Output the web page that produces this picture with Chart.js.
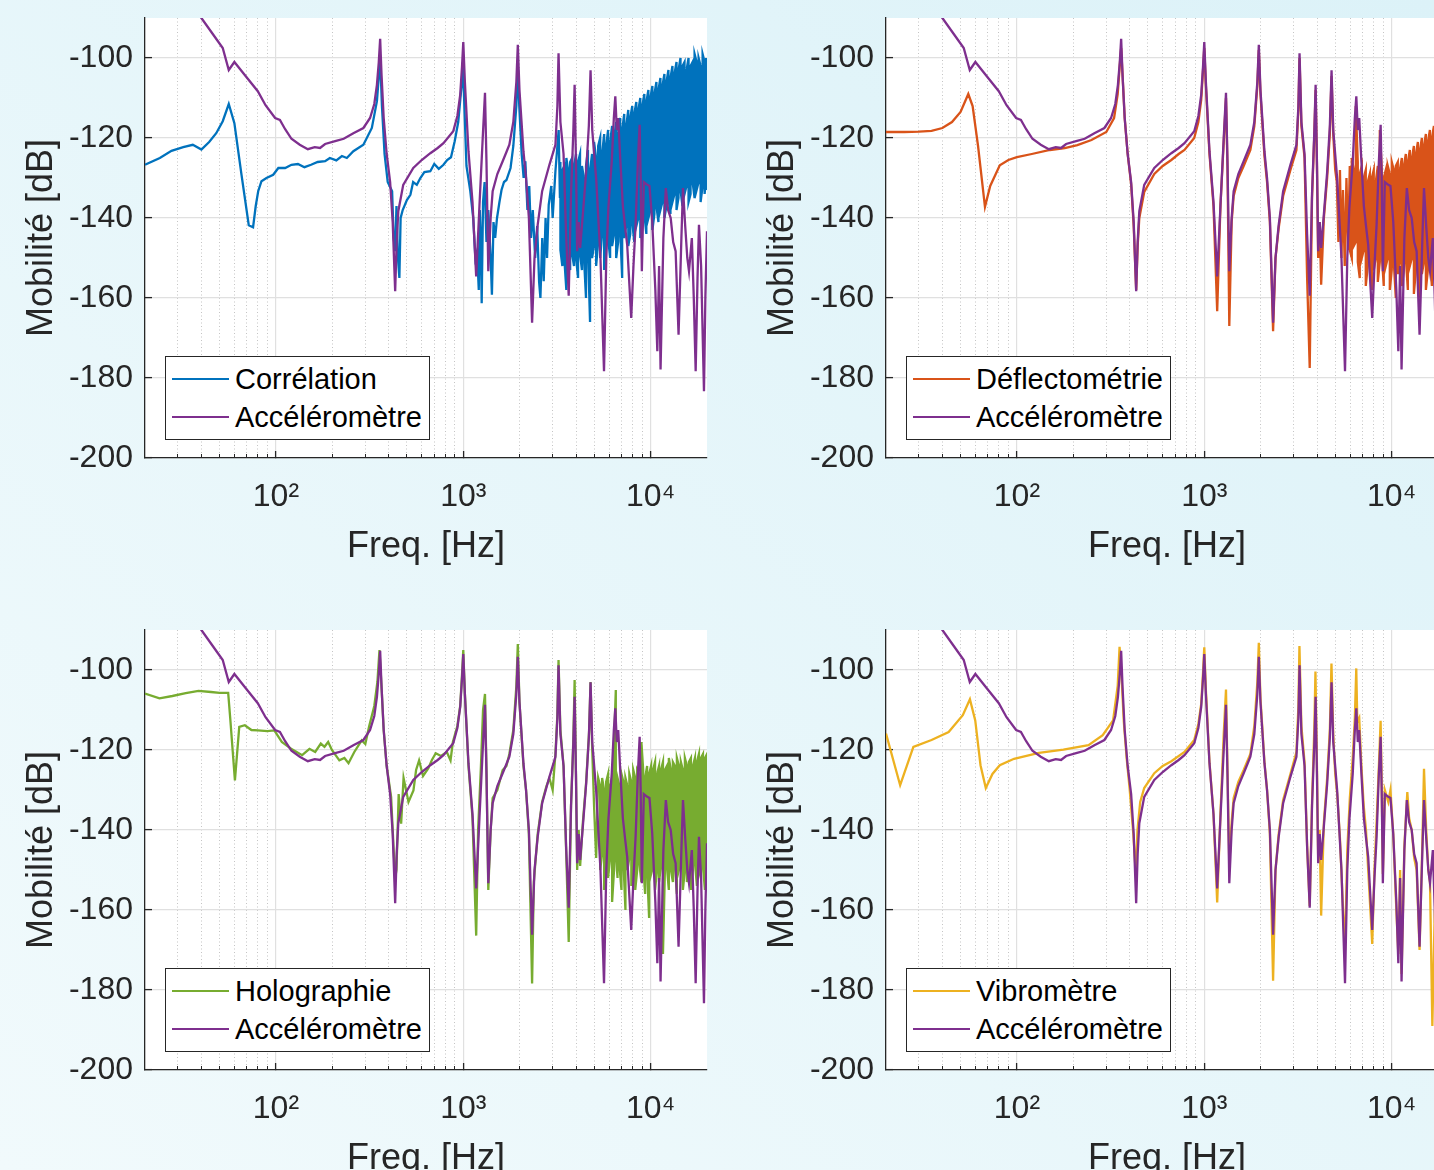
<!DOCTYPE html>
<html>
<head>
<meta charset="utf-8">
<script src="https://cdn.jsdelivr.net/npm/chart.js@4.4.1/dist/chart.umd.min.js"></script>
<style>
  body { margin: 0; }
  #figure {
    position: relative; width: 1434px; height: 1170px; overflow: hidden;
    background: linear-gradient(to top right, #f1fafc, #dcf2f8);
    font-family: "Liberation Sans", Arial, sans-serif;
  }
  .panel { position: absolute; width: 740px; height: 600px; }
  .panel canvas { position: absolute; left: 0; top: 0; }
  .legend {
    position: absolute; left: 165px; top: 356px;
    background: #fff; border: 1px solid #262626;
    padding: 3px 7px 3px 6px; font-size: 29px; line-height: 38px; color: #000;
  }
  .legend .row { display: flex; align-items: center; white-space: nowrap; }
  .legend .swatch { width: 57px; height: 2px; margin-right: 6px; }
</style>
</head>
<body>
<div id="figure">
  <div class="panel" id="p1" style="left:0;top:0"><canvas id="c1" width="740" height="600"></canvas></div>
  <div class="panel" id="p2" style="left:741px;top:0"><canvas id="c2" width="740" height="600"></canvas></div>
  <div class="panel" id="p3" style="left:0;top:612px"><canvas id="c3" width="740" height="600"></canvas></div>
  <div class="panel" id="p4" style="left:741px;top:612px"><canvas id="c4" width="740" height="600"></canvas></div>
</div>
<script>
// axis ticks
const freqMajor = [100, 1000, 10000];
const freqMajorLabels = ["10²", "10³", "10⁴"];
const freqMinor = [30, 40, 50, 60, 70, 80, 90, 200, 300, 400, 500, 600, 700, 800, 900,
  2000, 3000, 4000, 5000, 6000, 7000, 8000, 9000];
const dbTicks = [-200, -180, -160, -140, -120, -100];

// [Hz, dB]
const accelerometre = [
  [20, -76], [25, -80], [30, -84], [35, -87], [40, -90], [46, -94], [52, -97.5], [56, -103],
  [60, -101], [68, -104.2], [80, -108.3], [88, -111.8], [99, -115], [105, -115.5], [112, -117.8],
  [121, -120.2], [134, -121.7], [148, -122.8], [161, -122.3], [172, -122.5], [183, -121.5],
  [207, -120.8], [230, -120.2], [259, -118.8], [293, -117.5], [318, -115], [335, -111.5],
  [346, -106.7], [354, -101], [360, -95.2], [366, -104], [376, -115], [390, -124], [407, -131],
  [420, -141], [433, -158.3], [441, -146], [450, -138.3], [478, -131.7], [541, -127.5],
  [600, -125.5], [667, -123.8], [730, -122.5], [784, -121.3], [884, -118.3], [930, -114.5],
  [963, -109.2], [985, -102], [1000, -96], [1020, -106], [1066, -123.3], [1120, -136],
  [1172, -154.6], [1220, -137], [1270, -120], [1306, -108.7], [1330, -126], [1360, -153.3],
  [1400, -140], [1435, -133.3], [1520, -129], [1623, -125.8], [1700, -123.5], [1762, -121.7],
  [1850, -116], [1920, -106], [1955, -96.7], [1995, -108], [2095, -123.3], [2163, -130],
  [2240, -140], [2330, -166.2], [2400, -150], [2496, -141.7], [2636, -133.3], [2883, -126.7],
  [3104, -121.7], [3180, -112], [3225, -98.8], [3300, -116], [3430, -124], [3540, -144.2],
  [3655, -159.4], [3760, -134], [3870, -118], [3930, -106.7], [3995, -126], [4055, -148.3],
  [4130, -141], [4206, -147.5], [4350, -139], [4528, -128.5], [4680, -117], [4780, -103.1],
  [4880, -118], [5122, -130.2], [5400, -150], [5640, -178.3], [5800, -150], [5950, -137.5],
  [6200, -126], [6364, -115], [6480, -109.6], [6600, -118], [6716, -115], [6900, -126],
  [7109, -137], [7300, -142], [7499, -146.7], [7880, -165], [8100, -152], [8315, -141.7],
  [8550, -126], [8740, -116.7], [8850, -130], [8980, -153.3], [9200, -131], [9600, -131.7],
  [9860, -132], [10200, -140.8], [10600, -158], [10860, -173.3], [11100, -152], [11300, -177.9],
  [11700, -145], [12060, -132.5], [12400, -138], [12800, -140], [13200, -146], [13600, -148.3],
  [14100, -169.2], [14600, -145], [14890, -132.5], [15300, -142], [15700, -150], [16030, -153.3],
  [16600, -145], [17000, -160], [17400, -178.3], [17800, -155], [18120, -141.7], [18600, -152],
  [19270, -183.3], [19600, -160], [20000, -143.3]
];

const correlation = [
  [20, -126.7], [24, -125], [27.7, -123.2], [32, -122.3], [36, -121.7], [40, -122.9], [44, -121],
  [48, -118.8], [52, -115.8], [56, -111.5], [60, -116.3], [65.5, -129.2], [71.6, -141.8],
  [75.5, -142.3], [78, -137], [80.4, -133.3], [83.7, -130.8], [89, -130], [96.7, -129.2],
  [103, -127.5], [112, -127.5], [121, -126.7], [131, -126.5], [142, -127.3], [154, -126.7],
  [167, -126], [183, -125.8], [194, -125], [210, -125.6], [225, -124.5], [239, -125],
  [259, -123.3], [293, -121.7], [325, -117.5], [346, -110.8], [355, -104], [360, -100],
  [368, -112], [380, -124], [395, -131], [417, -133.3], [425, -145], [433, -148.3], [440, -137],
  [448, -150], [456, -155], [463, -140], [475, -138], [500, -135.5], [522, -134.2], [540, -131],
  [565, -131.7], [590, -130], [620, -128.5], [667, -128.3], [700, -126.5], [740, -127.7],
  [784, -126.7], [820, -125.5], [860, -124.8], [900, -120.8], [940, -116], [980, -106.7],
  [995, -101], [1010, -110], [1040, -127], [1090, -133.3], [1130, -140], [1160, -150],
  [1185, -148.3], [1210, -158], [1225, -138], [1240, -145], [1254, -161.3], [1275, -136],
  [1300, -131], [1330, -146], [1360, -138], [1400, -150], [1422, -159.2], [1450, -141],
  [1480, -145], [1514, -140], [1560, -136], [1600, -133], [1650, -131], [1700, -130.5],
  [1788, -127.5], [1850, -122], [1920, -112], [1955, -102], [1990, -112], [2050, -124],
  [2100, -130], [2145, -125.8], [2200, -138], [2250, -132], [2300, -145], [2350, -138],
  [2420, -150], [2480, -142], [2540, -156], [2581, -160], [2640, -145], [2688, -155.8],
  [2750, -140], [2800, -150], [2858, -136.7], [2950, -132], [3000, -140], [3104, -128.3],
  [3180, -122], [3230, -118], [3280, -135]
];
// noisy part: [Hz, upper dB, lower dB]
const correlationBand = [
  [3300, -126, -148], [3380, -128, -152], [3460, -127, -150], [3550, -125, -158],
  [3630, -128, -150], [3720, -126, -153], [3810, -125, -149], [3900, -127, -152],
  [4000, -124, -150], [4100, -126, -155], [4200, -124, -149], [4300, -127, -153],
  [4410, -130, -150], [4520, -127, -160], [4630, -123, -148], [4750, -128, -166],
  [4870, -124, -150], [4990, -121, -147], [5120, -125, -152], [5250, -122, -146],
  [5380, -120, -150], [5510, -124, -144], [5650, -119, -153], [5790, -122, -146],
  [5930, -118, -145], [6080, -121, -150], [6230, -117, -147], [6390, -120, -144],
  [6550, -116, -150], [6710, -119, -146], [6880, -115, -143], [7050, -118, -155],
  [7230, -114, -145], [7410, -117, -142], [7600, -113, -147], [7790, -115, -144],
  [7980, -112, -141], [8180, -114, -146], [8390, -111, -142], [8600, -113, -140],
  [8810, -110, -145], [9030, -112, -141], [9260, -109, -139], [9490, -111, -144],
  [9730, -108, -140], [9970, -110, -138], [10220, -107, -143], [10480, -109, -139],
  [10740, -106, -137], [11010, -108, -141], [11280, -105, -138], [11560, -107, -136],
  [11850, -104, -140], [12150, -106, -137], [12450, -103, -135], [12760, -105, -139],
  [13080, -102, -136], [13410, -104, -134], [13750, -101, -138], [14090, -103, -135],
  [14440, -100, -133], [14800, -102, -137], [15170, -101, -134], [15550, -103, -132],
  [15940, -100, -136], [16340, -102, -134], [16750, -101, -131], [17170, -99, -135],
  [17600, -101, -133], [18040, -100, -131], [18490, -102, -136], [18950, -99, -132],
  [19420, -101, -134], [19800, -100, -130], [20000, -102, -133]
];

const deflectometrie = [
  [20, -118.5], [25, -118.5], [30, -118.4], [35, -118.2], [40, -117.5], [45, -116], [50, -113.5],
  [55, -109], [58, -112], [62, -122], [67.5, -137.2], [72, -132], [81, -126.8], [90, -125.5],
  [100, -124.8], [120, -124], [150, -123], [180, -122.5], [210, -121.8], [250, -120.5],
  [300, -118.5], [330, -115], [345, -109], [355, -101], [360, -97.5], [366, -104], [376, -115],
  [390, -124], [407, -131.5], [420, -142], [433, -158], [441, -147], [450, -140], [478, -133.5],
  [541, -129], [600, -127], [667, -125.5], [730, -124], [784, -123], [884, -120], [930, -116],
  [963, -110.5], [985, -103], [1000, -97.5], [1020, -107], [1066, -124], [1120, -137],
  [1172, -163.3], [1220, -137], [1270, -121], [1306, -110], [1330, -127], [1360, -167],
  [1400, -141], [1435, -134.5], [1520, -130], [1623, -127], [1762, -123], [1850, -117],
  [1920, -107], [1955, -98], [1995, -109], [2095, -124.5], [2163, -131], [2240, -141],
  [2330, -168.3], [2400, -150], [2496, -142.5], [2636, -134.5], [2883, -128], [3104, -123],
  [3180, -113], [3225, -100], [3300, -117], [3430, -125], [3540, -155], [3655, -177.5],
  [3760, -135], [3870, -119], [3930, -108], [3995, -127], [4055, -150], [4130, -141],
  [4206, -156.7], [4350, -140], [4528, -130], [4680, -119], [4780, -104.5], [4880, -119],
  [5000, -128], [5100, -131], [5200, -146], [5300, -128], [5400, -150], [5500, -133],
  [5620, -152], [5740, -130], [5860, -148]
];
const deflectometrieBand = [
  [5980, -127, -148], [6130, -125, -150], [6280, -128, -147], [6440, -112, -146],
  [6600, -126, -151], [6760, -129, -155], [6930, -127, -150], [7100, -130, -148],
  [7280, -128, -157], [7460, -131, -152], [7650, -129, -150], [7840, -130, -158],
  [8030, -128, -153], [8230, -131, -150], [8440, -127, -156], [8650, -118, -151],
  [8860, -128, -149], [9080, -130, -157], [9310, -128, -152], [9540, -127, -150],
  [9780, -129, -158], [10020, -126, -153], [10270, -128, -151], [10530, -127, -160],
  [10790, -126, -154], [11060, -128, -151], [11340, -125, -157], [11620, -127, -153],
  [11910, -124, -150], [12210, -126, -158], [12510, -123, -152], [12830, -125, -150],
  [13150, -122, -159], [13480, -124, -153], [13810, -121, -151], [14160, -123, -160],
  [14510, -120, -154], [14870, -122, -151], [15240, -119, -158], [15620, -121, -153],
  [16010, -118, -150], [16410, -120, -157], [16820, -117, -152], [17240, -119, -150],
  [17670, -116, -156], [18110, -118, -152], [18560, -116, -150], [19030, -117, -155],
  [19500, -115, -151], [20000, -117, -154]
];

const holographie = [
  [20, -105.9], [23.9, -107.1], [28, -106.5], [33, -105.8], [38.6, -105.2], [45, -105.5],
  [50, -105.7], [55.6, -105.7], [57, -112], [60.4, -127.6], [63.7, -114.2], [68.2, -113.8],
  [74, -115], [80, -115.1], [90, -115.3], [98, -115.1], [107.5, -118], [120.5, -119.7],
  [138, -121.3], [151, -119.7], [162, -120.5], [173.6, -118.4], [181.6, -119.2], [190, -118],
  [199, -120], [218, -122.6], [232, -122], [244, -123.3], [262, -120.5], [287, -117.6],
  [300, -118.5], [314, -114.2], [335, -109], [348, -103], [357, -95], [366, -104], [376, -115],
  [390, -124], [412, -131.8], [425, -145], [433, -152], [440, -150], [452, -131], [466, -138.4],
  [480, -127], [510, -133], [542, -130.1], [560, -125], [581, -122.6], [610, -126.5],
  [650, -124.6], [680, -122.5], [713, -120.8], [760, -121.5], [817, -120.5], [855, -122.6],
  [880, -118], [930, -114], [963, -109], [985, -101], [1000, -95], [1020, -106], [1066, -124],
  [1120, -137], [1172, -166.4], [1200, -140], [1240, -125], [1275, -110], [1306, -106],
  [1330, -125], [1360, -155], [1400, -140], [1435, -132], [1520, -130], [1623, -125],
  [1700, -124], [1762, -121], [1850, -115], [1920, -104], [1955, -93.5], [1995, -108],
  [2095, -124], [2163, -130], [2240, -141], [2330, -178.4], [2380, -153], [2496, -141],
  [2636, -133], [2780, -129], [2883, -127], [3000, -130], [3104, -121], [3180, -111],
  [3225, -97.5], [3300, -115], [3430, -124], [3540, -145], [3655, -168], [3760, -134],
  [3870, -117], [3930, -102.5], [3995, -126], [4055, -150], [4130, -140], [4206, -149],
  [4350, -138], [4528, -128], [4700, -115], [4780, -103], [4880, -120], [5000, -135],
  [5120, -147], [5250, -127]
];
const holographieBand = [
  [5380, -129, -150], [5510, -127, -146], [5650, -130, -155], [5790, -128, -148],
  [5930, -126, -152], [6080, -129, -147], [6230, -127, -158], [6380, -118, -150],
  [6520, -105, -146], [6660, -127, -152], [6820, -129, -149], [6990, -126, -155],
  [7160, -128, -148], [7340, -127, -160], [7520, -129, -150], [7700, -126, -147],
  [7890, -128, -154], [8080, -125, -149], [8280, -127, -155], [8480, -125, -150],
  [8690, -126, -148], [8930, -118, -153], [9130, -125, -149], [9350, -127, -156],
  [9580, -124, -150], [9820, -126, -162], [10060, -124, -151], [10310, -125, -149],
  [10560, -123, -155], [10820, -126, -150], [11090, -124, -153], [11360, -125, -149],
  [11640, -123, -171], [11910, -125, -151], [12210, -124, -149], [12510, -122, -155],
  [12830, -125, -150], [13150, -123, -153], [13480, -124, -149], [13810, -122, -156],
  [14160, -124, -150], [14510, -123, -148], [14870, -125, -155], [15240, -122, -150],
  [15620, -124, -153], [16010, -123, -149], [16410, -122, -155], [16820, -124, -150],
  [17240, -122, -148], [17670, -123, -154], [18110, -121, -150], [18560, -122, -152],
  [19030, -121, -149], [19500, -122, -155], [20000, -121, -150]
];

const vibrometre = [
  [20, -115.9], [23.8, -128.8], [28, -119.2], [35, -117.5], [43.2, -115.5], [51.4, -111.3],
  [56.1, -107.3], [59.9, -112.6], [63.9, -123.8], [68.2, -129.5], [74, -126], [81, -123.8],
  [96.5, -122.2], [131, -120.7], [177, -119.9], [241, -118.8], [287, -116.3], [326, -112.6],
  [345, -104], [353, -94.2], [362, -102], [372, -113], [385, -122], [400, -130], [418, -141],
  [431, -151], [440, -140], [455, -133], [478, -129.5], [541, -125.8], [600, -124],
  [667, -122.8], [784, -120.5], [884, -117.5], [930, -113.5], [963, -108.5], [985, -100.5],
  [1000, -94.3], [1020, -105], [1066, -123], [1120, -136], [1172, -158.1], [1220, -136],
  [1270, -116], [1306, -104.9], [1330, -125], [1360, -148.5], [1400, -138], [1435, -132],
  [1520, -128], [1623, -125], [1762, -121], [1850, -114], [1920, -103], [1955, -93.2],
  [1995, -107], [2095, -123], [2163, -130], [2240, -141], [2330, -177.7], [2400, -150],
  [2496, -141], [2636, -132.5], [2883, -126], [3104, -120.5], [3180, -109], [3221, -94],
  [3300, -114], [3430, -123], [3540, -144], [3655, -159], [3760, -133], [3870, -114],
  [3922, -100.4], [3995, -124], [4055, -147], [4130, -140], [4206, -161.4], [4350, -138],
  [4528, -127], [4680, -115], [4775, -98.4], [4880, -116], [5000, -126], [5122, -131],
  [5300, -142], [5520, -161], [5640, -170], [5800, -145], [5984, -132], [6200, -122],
  [6364, -112], [6477, -99.6], [6560, -113], [6716, -112], [6900, -124], [7100, -134],
  [7300, -140], [7499, -150], [7880, -168.5], [8100, -150], [8315, -138], [8550, -124],
  [8736, -112.7], [8850, -128], [8980, -151], [9200, -130], [9600, -133], [9860, -130],
  [10200, -141], [10600, -160], [10860, -171], [11100, -150], [11300, -176], [11700, -144],
  [12130, -130.5], [12400, -137], [12800, -140], [13200, -147], [13600, -150], [14100, -170],
  [14600, -143], [14890, -124.7], [15300, -140], [15700, -150], [16030, -153], [16500, -189],
  [17000, -160], [17400, -176], [17800, -152], [18120, -140], [18600, -151], [19270, -180],
  [19600, -158], [20000, -142]
];

const purple = "#7E2F8E";
const fontFamily = "'Liberation Sans', Arial, sans-serif";
const textColor = "#262626";

Chart.defaults.font.family = fontFamily;

function toPoints(pairs) {
  return pairs.map(p => ({ x: p[0], y: p[1] }));
}

// noisy band: one stroke from upper to lower value at each frequency, alternating direction
function bandPoints(rows) {
  const pts = [];
  rows.forEach((r, i) => {
    if (i % 2 === 0) { pts.push({ x: r[0], y: r[1] }, { x: r[0], y: r[2] }); }
    else { pts.push({ x: r[0], y: r[2] }, { x: r[0], y: r[1] }); }
  });
  return pts;
}

// white plot area on the tinted figure background
const plotBackground = {
  id: "plotBackground",
  beforeDraw(chart) {
    const { ctx, chartArea: a } = chart;
    ctx.save();
    ctx.fillStyle = "#ffffff";
    ctx.fillRect(a.left, a.top, a.right - a.left, a.bottom - a.top);
    ctx.restore();
  }
};

function addLegend(panelId, chart) {
  const box = document.createElement("div");
  box.className = "legend";
  chart.data.datasets.forEach(ds => {
    const row = document.createElement("div");
    row.className = "row";
    const sw = document.createElement("span");
    sw.className = "swatch";
    sw.style.background = ds.borderColor;
    const txt = document.createElement("span");
    txt.textContent = ds.label;
    row.appendChild(sw);
    row.appendChild(txt);
    box.appendChild(row);
  });
  document.getElementById(panelId).appendChild(box);
}

function makePanel(panelId, canvasId, pairs, band, label, color) {
  const points = toPoints(pairs).concat(bandPoints(band));
  const chart = new Chart(document.getElementById(canvasId), {
    type: "line",
    data: {
      datasets: [
        { label: label, data: points, borderColor: color, order: 1 },
        { label: "Accéléromètre", data: toPoints(accelerometre), borderColor: purple, order: 0 }
      ]
    },
    options: {
      responsive: false,
      animation: false,
      parsing: false,
      layout: { padding: { top: 18, right: 33, left: 0, bottom: 0 } },
      elements: {
        line: { borderWidth: 2.3, tension: 0 },
        point: { radius: 0 }
      },
      plugins: { legend: { display: false }, tooltip: { enabled: false } },
      scales: {
        x: {
          type: "logarithmic", position: "bottom", weight: 1, min: 20, max: 20000,
          afterBuildTicks: s => { s.ticks = freqMajor.map(v => ({ value: v })); },
          afterFit: s => { s.height = 142; s.paddingLeft = 0; s.paddingRight = 0; },
          ticks: {
            autoSkip: false, maxRotation: 0, padding: 27, color: textColor,
            font: { size: 32 },
            callback: v => { const i = freqMajor.indexOf(v); return i < 0 ? "" : freqMajorLabels[i]; }
          },
          grid: { color: "#e0e0e0", lineWidth: 1.2, tickLength: -7, tickColor: textColor, tickWidth: 1.3 },
          border: { color: textColor, width: 1.3 },
          title: {
            display: true, text: "Freq. [Hz]", color: textColor,
            font: { size: 36 }, padding: { top: 0, bottom: 31 }
          }
        },
        xm: {
          type: "logarithmic", position: "bottom", weight: 0, min: 20, max: 20000,
          afterBuildTicks: s => { s.ticks = freqMinor.map(v => ({ value: v })); },
          afterFit: s => { s.height = 0; s.paddingLeft = 0; s.paddingRight = 0; },
          ticks: { display: false },
          grid: { color: "#c4c4c4", lineWidth: 1, tickLength: -4, tickColor: textColor, tickWidth: 1 },
          border: { display: false, dash: [1, 2.5] }
        },
        y: {
          position: "left", min: -200, max: -90,
          afterBuildTicks: s => { s.ticks = dbTicks.map(v => ({ value: v })); },
          afterFit: s => { s.width = 145; s.paddingTop = 0; s.paddingBottom = 0; },
          ticks: { padding: 19, color: textColor, font: { size: 32 }, callback: v => String(v) },
          grid: { color: "#e0e0e0", lineWidth: 1.2, tickLength: -7, tickColor: textColor, tickWidth: 1.3 },
          border: { color: textColor, width: 1.3 },
          title: {
            display: true, text: "Mobilité [dB]", color: textColor,
            font: { size: 36 }, padding: { top: 20, bottom: 0 }
          }
        }
      }
    },
    plugins: [plotBackground]
  });
  addLegend(panelId, chart);
}

makePanel("p1", "c1", correlation, correlationBand, "Corrélation", "#0072BD");
makePanel("p2", "c2", deflectometrie, deflectometrieBand, "Déflectométrie", "#D95319");
makePanel("p3", "c3", holographie, holographieBand, "Holographie", "#77AC30");
makePanel("p4", "c4", vibrometre, [], "Vibromètre", "#EDB120");
</script>
</body>
</html>
